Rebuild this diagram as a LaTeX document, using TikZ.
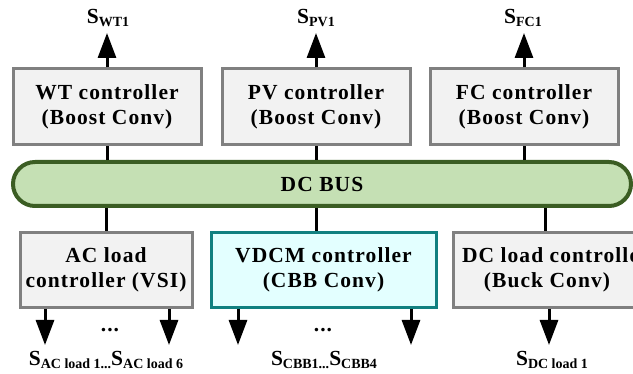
\documentclass[tikz,border=0pt]{standalone}
\usepackage{fontspec}
\setmainfont{Liberation Serif}[LetterSpace=5]
\newfontfamily\subfont{Liberation Serif}
\usetikzlibrary{arrows.meta}
\definecolor{boxfill}{HTML}{F2F2F2}
\definecolor{boxline}{HTML}{808080}
\definecolor{busfill}{HTML}{C5E0B4}
\definecolor{busline}{HTML}{3B5D23}
\definecolor{vdcmfill}{HTML}{E3FFFF}
\definecolor{vdcmline}{HTML}{118080}
\newcommand{\sig}[1]{S\raisebox{-0.15em}{\subfont\fontsize{14}{14}\selectfont\bfseries #1}}
\begin{document}
\begin{tikzpicture}[x=1pt,y=-1pt,
  every node/.style={font=\fontsize{21.5}{25}\selectfont\bfseries},
  ctrl/.style={draw=boxline,fill=boxfill,line width=3pt,align=center,inner sep=0pt},
  vdcm/.style={draw=vdcmline,fill=vdcmfill,line width=3pt,align=center,inner sep=0pt},
  bus/.style={draw=busline,fill=busfill,line width=4pt,rounded corners=22pt,inner sep=0pt},
  wire/.style={line width=3pt},
  arr/.style={line width=3pt,-{Triangle[width=18pt,length=25pt]}},
  lbl/.style={inner sep=0pt}]
\useasboundingbox (0,0) rectangle (633,374);
\clip (0,0) rectangle (633,374);

% converter controllers on the sources side
\node[ctrl,minimum width=188pt,minimum height=76pt] (wt) at (107,107) {WT controller\\(Boost Conv)};
\node[ctrl,minimum width=188pt,minimum height=76pt] (pv) at (316,107) {PV controller\\(Boost Conv)};
\node[ctrl,minimum width=188pt,minimum height=76pt] (fc) at (524,107) {FC controller\\(Boost Conv)};

% common DC bus
\node[bus,minimum width=618pt,minimum height=44pt] (bus) at (322,184) {DC BUS};

% controllers on the load side
\node[ctrl,minimum width=172pt,minimum height=75pt] (ac) at (106,270) {AC load\\controller (VSI)};
\node[vdcm,minimum width=225pt,minimum height=75pt] (vd) at (323.5,270) {VDCM controller\\(CBB Conv)};
\node[ctrl,minimum width=188pt,minimum height=75pt] (dc) at (547,270) {\makebox[170pt][l]{DC load controller}\\(Buck Conv)};

% links to the bus
\draw[wire] (wt.south) -- (wt.south |- bus.north);
\draw[wire] (pv.south) -- (pv.south |- bus.north);
\draw[wire] (fc.south) -- (fc.south |- bus.north);
\draw[wire] (bus.south -| ac.north) -- (ac.north);
\draw[wire] (bus.south -| pv.south) -- (pv.south |- vd.north);
\draw[wire] (bus.south -| 545,0) -- (545,0 |- dc.north);

% switching signals, top
\node[lbl] (swt) at (108,18) {\sig{WT1}};
\node[lbl] (spv) at (316,18) {\sig{PV1}};
\node[lbl] (sfc) at (523,18) {\sig{FC1}};
\coordinate (twt) at (107,33);
\coordinate (tpv) at (316,33);
\coordinate (tfc) at (524,33);
\draw[arr] (wt.north) -- (twt);
\draw[arr] (pv.north) -- (tpv);
\draw[arr] (fc.north) -- (tfc);

% switching signals, bottom
\coordinate (a1) at (45,345);
\coordinate (a6) at (169,345);
\coordinate (c1) at (238,345);
\coordinate (c4) at (411,345);
\coordinate (d1) at (549,345);
\draw[arr] (a1 |- ac.south) -- (a1);
\draw[arr] (a6 |- ac.south) -- (a6);
\draw[arr] (c1 |- vd.south) -- (c1);
\draw[arr] (c4 |- vd.south) -- (c4);
\draw[arr] (d1 |- dc.south) -- (d1);

\node[lbl] (dots1) at (110,330) {...};
\node[lbl] (dots2) at (323,330) {...};

\node[lbl] (sac) at (106,360) {\sig{AC load 1...}\sig{AC load 6}};
\node[lbl] (scbb) at (324,360) {\sig{CBB1...}\sig{CBB4}};
\node[lbl] (sdc) at (552,360) {\sig{DC load 1}};
\end{tikzpicture}
\end{document}
